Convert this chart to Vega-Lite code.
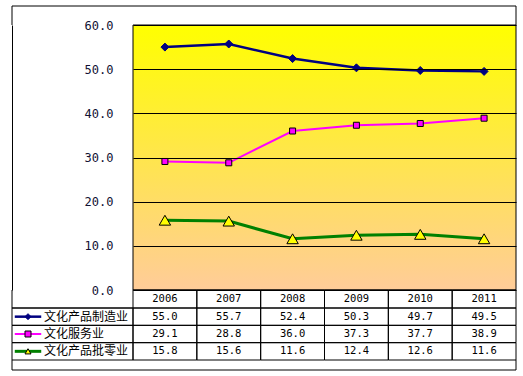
{
  "$schema": "https://vega.github.io/schema/vega-lite/v6.json",
  "padding": {"left": 8, "top": 5, "right": 0, "bottom": 0},
  "background": "white",
  "spacing": 0,
  "columns": 2,
  "bounds": "flush",
  "datasets": {
    "d": [
      {"series": "文化产品制造业", "year": "2006", "value": 55.0},
      {"series": "文化产品制造业", "year": "2007", "value": 55.7},
      {"series": "文化产品制造业", "year": "2008", "value": 52.4},
      {"series": "文化产品制造业", "year": "2009", "value": 50.3},
      {"series": "文化产品制造业", "year": "2010", "value": 49.7},
      {"series": "文化产品制造业", "year": "2011", "value": 49.5},
      {"series": "文化服务业", "year": "2006", "value": 29.1},
      {"series": "文化服务业", "year": "2007", "value": 28.8},
      {"series": "文化服务业", "year": "2008", "value": 36.0},
      {"series": "文化服务业", "year": "2009", "value": 37.3},
      {"series": "文化服务业", "year": "2010", "value": 37.7},
      {"series": "文化服务业", "year": "2011", "value": 38.9},
      {"series": "文化产品批零业", "year": "2006", "value": 15.8},
      {"series": "文化产品批零业", "year": "2007", "value": 15.6},
      {"series": "文化产品批零业", "year": "2008", "value": 11.6},
      {"series": "文化产品批零业", "year": "2009", "value": 12.4},
      {"series": "文化产品批零业", "year": "2010", "value": 12.6},
      {"series": "文化产品批零业", "year": "2011", "value": 11.6}
    ]
  },
  "config": {
    "view": {"stroke": null},
    "legend": {"disable": true},
    "concat": {"spacing": 0}
  },
  "concat": [
    {
      "width": 121,
      "height": 19,
      "data": {"values": [{}]},
      "layer": [
        {"mark": {"type": "rule", "color": "black"}, "encoding": {"y": {"datum": 1, "type": "quantitative", "scale": {"domain": [0, 1]}, "axis": null}}},
        {"mark": {"type": "rule", "color": "black"}, "encoding": {"x": {"datum": 0, "type": "quantitative", "scale": {"domain": [0, 1]}, "axis": null}}}
      ]
    },
    {
      "width": 383,
      "height": 19,
      "data": {"values": [{}]},
      "layer": [
        {"mark": {"type": "rule", "color": "black"}, "encoding": {"y": {"datum": 1, "type": "quantitative", "scale": {"domain": [0, 1]}, "axis": null}}},
        {"mark": {"type": "rule", "color": "black"}, "encoding": {"x": {"datum": 1, "type": "quantitative", "scale": {"domain": [0, 1]}, "axis": null}}}
      ]
    },
    {
      "width": 121,
      "height": 265,
      "data": {"values": [{}]},
      "mark": {"type": "point", "opacity": 0},
      "encoding": {
        "y": {
          "datum": 0,
          "type": "quantitative",
          "scale": {"domain": [0, 60], "nice": false},
          "axis": {
            "orient": "left",
            "values": [0, 10, 20, 30, 40, 50, 60],
            "format": ".1f",
            "labelPadding": -101,
            "ticks": false,
            "grid": false,
            "domain": true,
            "domainColor": "black",
            "domainWidth": 1,
            "title": null,
            "labelFont": "DejaVu Sans Mono",
            "labelFontSize": 12,
            "labelColor": "#111133",
            "minExtent": 0,
            "maxExtent": 0
          }
        }
      }
    },
    {
      "width": 383,
      "height": 265,
      "layer": [
        {
          "data": {"values": [{}]},
          "mark": {
            "type": "rect",
            "stroke": "black",
            "strokeWidth": 1,
            "fill": {
              "gradient": "linear",
              "x1": 0, "y1": 0, "x2": 0, "y2": 1,
              "stops": [
                {"offset": 0, "color": "#FFFF00"},
                {"offset": 1, "color": "#FFCC99"}
              ]
            }
          },
          "encoding": {
            "y": {
              "datum": 60,
              "type": "quantitative",
              "scale": {"domain": [0, 60], "nice": false},
              "axis": {
                "values": [0, 10, 20, 30, 40, 50, 60],
                "grid": true,
                "gridColor": "black",
                "gridWidth": 1,
                "gridOpacity": 1,
                "labels": false,
                "ticks": false,
                "domain": false,
                "title": null,
                "zindex": 1,
                "minExtent": 0,
                "maxExtent": 0
              }
            },
            "y2": {"datum": 0}
          }
        },
        {
          "data": {"name": "d"},
          "mark": {"type": "line"},
          "encoding": {
            "x": {"field": "year", "type": "ordinal", "scale": {"type": "point", "padding": 0.5}, "axis": null},
            "y": {"field": "value", "type": "quantitative"},
            "color": {
              "field": "series", "type": "nominal",
              "scale": {"domain": ["文化产品制造业", "文化服务业", "文化产品批零业"], "range": ["#000080", "#FF00FF", "#008000"]}
            },
            "strokeWidth": {
              "field": "series", "type": "nominal",
              "scale": {"type": "ordinal", "domain": ["文化产品制造业", "文化服务业", "文化产品批零业"], "range": [2.5, 2, 3]}
            }
          }
        },
        {
          "data": {"name": "d"},
          "mark": {"type": "point", "filled": true, "opacity": 1, "strokeWidth": 1},
          "encoding": {
            "x": {"field": "year", "type": "ordinal"},
            "y": {"field": "value", "type": "quantitative"},
            "shape": {
              "field": "series", "type": "nominal",
              "scale": {"domain": ["文化产品制造业", "文化服务业", "文化产品批零业"], "range": ["diamond", "square", "triangle-up"]}
            },
            "fill": {
              "field": "series", "type": "nominal",
              "scale": {"domain": ["文化产品制造业", "文化服务业", "文化产品批零业"], "range": ["#000080", "#FF00FF", "#FFFF00"]}
            },
            "stroke": {
              "field": "series", "type": "nominal",
              "scale": {"domain": ["文化产品制造业", "文化服务业", "文化产品批零业"], "range": ["#000080", "#000000", "#000000"]}
            },
            "size": {
              "field": "series", "type": "nominal",
              "scale": {"type": "ordinal", "domain": ["文化产品制造业", "文化服务业", "文化产品批零业"], "range": [64, 36, 130]}
            }
          }
        }
      ]
    },
    {
      "width": 121,
      "height": 18,
      "data": {"values": [{}]},
      "layer": [
        {"mark": {"type": "rule", "color": "black"}, "encoding": {"y": {"datum": 0, "type": "quantitative", "scale": {"domain": [0, 1]}, "axis": null}}},
        {"mark": {"type": "rule", "color": "black"}, "encoding": {"x": {"datum": 0, "type": "quantitative", "scale": {"domain": [0, 1]}, "axis": null}}}
      ]
    },
    {
      "width": 383,
      "height": 18,
      "data": {"name": "d"},
      "transform": [{"filter": "datum.series == '文化产品制造业'"}],
      "layer": [
        {
          "mark": {"type": "rect", "fill": "transparent", "stroke": "black", "strokeWidth": 1},
          "encoding": {
            "x": {"field": "year", "type": "ordinal", "scale": {"paddingInner": 0, "paddingOuter": 0}, "axis": null}
          }
        },
        {
          "mark": {"type": "text", "font": "DejaVu Sans Mono", "fontSize": 10.5, "color": "black", "baseline": "middle"},
          "encoding": {
            "x": {"field": "year", "type": "ordinal"},
            "text": {"field": "year"}
          }
        }
      ]
    },
    {
      "width": 121,
      "height": 52,
      "data": {"name": "d"},
      "transform": [{"filter": "datum.year == '2006'"}],
      "layer": [
        {
          "mark": {"type": "rect", "fill": "transparent", "stroke": "black", "strokeWidth": 1},
          "encoding": {
            "y": {
              "field": "series", "type": "nominal",
              "scale": {"domain": ["文化产品制造业", "文化服务业", "文化产品批零业"], "paddingInner": 0, "paddingOuter": 0},
              "axis": null
            }
          }
        },
        {
          "mark": {"type": "point", "shape": "M-1,0H1", "filled": false, "size": 700, "opacity": 1},
          "encoding": {
            "x": {"datum": "sym", "type": "nominal", "scale": {"type": "point", "domain": ["sym", "txt"], "range": [16, 32], "padding": 0}, "axis": null},
            "y": {"field": "series", "type": "nominal"},
            "color": {"field": "series", "type": "nominal"},
            "strokeWidth": {
              "field": "series", "type": "nominal",
              "scale": {"type": "ordinal", "domain": ["文化产品制造业", "文化服务业", "文化产品批零业"], "range": [2.5, 2, 3]}
            }
          }
        },
        {
          "mark": {"type": "point", "filled": true, "opacity": 1, "strokeWidth": 1, "size": 36},
          "encoding": {
            "x": {"datum": "sym", "type": "nominal"},
            "y": {"field": "series", "type": "nominal"},
            "shape": {"field": "series", "type": "nominal"},
            "fill": {"field": "series", "type": "nominal"},
            "stroke": {"field": "series", "type": "nominal"}
          }
        },
        {
          "mark": {"type": "text", "align": "left", "baseline": "middle", "font": "Noto Sans CJK SC", "fontSize": 12, "color": "black"},
          "encoding": {
            "x": {"datum": "txt", "type": "nominal"},
            "y": {"field": "series", "type": "nominal"},
            "text": {"field": "series"}
          }
        }
      ]
    },
    {
      "width": 383,
      "height": 52,
      "data": {"name": "d"},
      "layer": [
        {
          "mark": {"type": "rect", "fill": "transparent", "stroke": "black", "strokeWidth": 1},
          "encoding": {
            "x": {"field": "year", "type": "ordinal", "scale": {"paddingInner": 0, "paddingOuter": 0}, "axis": null},
            "y": {
              "field": "series", "type": "nominal",
              "scale": {"domain": ["文化产品制造业", "文化服务业", "文化产品批零业"], "paddingInner": 0, "paddingOuter": 0},
              "axis": null
            }
          }
        },
        {
          "mark": {"type": "text", "font": "DejaVu Sans Mono", "fontSize": 10.5, "color": "black", "baseline": "middle"},
          "encoding": {
            "x": {"field": "year", "type": "ordinal"},
            "y": {"field": "series", "type": "nominal"},
            "text": {"field": "value", "type": "quantitative", "format": ".1f"}
          }
        }
      ]
    },
    {
      "width": 121,
      "height": 10,
      "data": {"values": [{}]},
      "layer": [
        {"mark": {"type": "rule", "color": "black"}, "encoding": {"y": {"datum": 0, "type": "quantitative", "scale": {"domain": [0, 1]}, "axis": null}}},
        {"mark": {"type": "rule", "color": "black"}, "encoding": {"x": {"datum": 0, "type": "quantitative", "scale": {"domain": [0, 1]}, "axis": null}}}
      ]
    },
    {
      "width": 383,
      "height": 10,
      "data": {"values": [{}]},
      "layer": [
        {"mark": {"type": "rule", "color": "black"}, "encoding": {"y": {"datum": 0, "type": "quantitative", "scale": {"domain": [0, 1]}, "axis": null}}},
        {"mark": {"type": "rule", "color": "black"}, "encoding": {"x": {"datum": 1, "type": "quantitative", "scale": {"domain": [0, 1]}, "axis": null}}}
      ]
    }
  ]
}
